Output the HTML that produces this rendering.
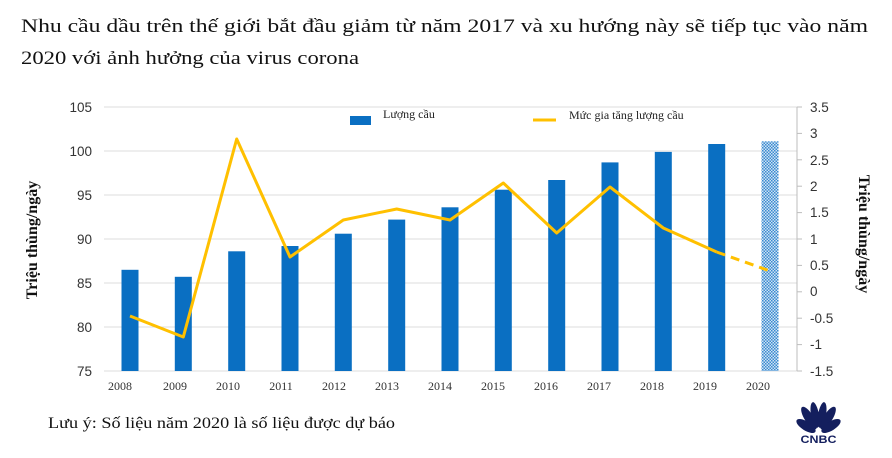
<!DOCTYPE html>
<html><head><meta charset="utf-8"><style>
html,body{margin:0;padding:0;background:#fff;}
svg{display:block;}
</style></head><body>
<svg width="892" height="458" viewBox="0 0 892 458" xmlns="http://www.w3.org/2000/svg">
<defs>
<pattern id="dots" width="3" height="3" patternUnits="userSpaceOnUse">
<rect width="3" height="3" fill="#cfe3f3"/>
<rect width="1.5" height="1.5" fill="#3a8ad0"/>
<rect x="1.5" y="1.5" width="1.5" height="1.5" fill="#3a8ad0"/>
</pattern>
</defs>
<g font-family="'Liberation Serif', serif" fill="#111">
<text x="21" y="32" font-size="19" textLength="847" lengthAdjust="spacingAndGlyphs">Nhu cầu dầu trên thế giới bắt đầu giảm từ năm 2017 và xu hướng này sẽ tiếp tục vào năm</text>
<text x="21" y="64" font-size="19" textLength="338" lengthAdjust="spacingAndGlyphs">2020 với ảnh hưởng của virus corona</text>
<text x="48" y="428" font-size="16" textLength="347" lengthAdjust="spacingAndGlyphs">Lưu ý: Số liệu năm 2020 là số liệu được dự báo</text>
</g>
<g stroke="#dcdcdc" stroke-width="1">
<line x1="104" y1="107" x2="797" y2="107"/>
<line x1="104" y1="151" x2="797" y2="151"/>
<line x1="104" y1="195" x2="797" y2="195"/>
<line x1="104" y1="239" x2="797" y2="239"/>
<line x1="104" y1="283" x2="797" y2="283"/>
<line x1="104" y1="327" x2="797" y2="327"/>
<line x1="104" y1="371" x2="797" y2="371"/>
</g>
<g stroke="#bdbdbd" stroke-width="1">
<line x1="797" y1="107" x2="797" y2="371"/>
<line x1="797" y1="107" x2="802" y2="107"/><line x1="797" y1="133.4" x2="802" y2="133.4"/>
<line x1="797" y1="159.8" x2="802" y2="159.8"/><line x1="797" y1="186.2" x2="802" y2="186.2"/>
<line x1="797" y1="212.6" x2="802" y2="212.6"/><line x1="797" y1="239" x2="802" y2="239"/>
<line x1="797" y1="265.4" x2="802" y2="265.4"/><line x1="797" y1="291.8" x2="802" y2="291.8"/>
<line x1="797" y1="318.2" x2="802" y2="318.2"/><line x1="797" y1="344.6" x2="802" y2="344.6"/>
<line x1="797" y1="371" x2="802" y2="371"/>
</g>
<g font-family="'Liberation Sans', sans-serif" font-size="13.5" fill="#333">
<g text-anchor="end">
<text x="92" y="112">105</text><text x="92" y="156">100</text><text x="92" y="200">95</text>
<text x="92" y="244">90</text><text x="92" y="288">85</text><text x="92" y="332">80</text><text x="92" y="376">75</text>
</g>
<text x="810" y="112">3.5</text><text x="810" y="138">3</text><text x="810" y="165">2.5</text>
<text x="810" y="191">2</text><text x="810" y="217">1.5</text><text x="810" y="244">1</text>
<text x="810" y="270">0.5</text><text x="810" y="296">0</text><text x="810" y="323">-0.5</text>
<text x="810" y="349">-1</text><text x="810" y="376">-1.5</text>
</g>
<g font-family="'Liberation Serif', serif" font-size="12" fill="#333" text-anchor="middle">
<text x="120" y="390">2008</text><text x="175" y="390">2009</text><text x="228" y="390">2010</text>
<text x="281" y="390">2011</text><text x="334" y="390">2012</text><text x="387" y="390">2013</text>
<text x="440" y="390">2014</text><text x="493" y="390">2015</text><text x="546" y="390">2016</text>
<text x="599" y="390">2017</text><text x="652" y="390">2018</text><text x="705" y="390">2019</text>
<text x="758" y="390">2020</text>
</g>
<g font-family="'Liberation Serif', serif" font-size="16" font-weight="bold" fill="#111" text-anchor="middle">
<text transform="translate(37,240) rotate(-90)">Triệu thùng/ngày</text>
<text transform="translate(859,234) rotate(90)">Triệu thùng/ngày</text>
</g>
<g fill="#0a6fc2">
<rect x="121.5" y="269.8" width="17" height="101.2"/>
<rect x="174.8" y="276.8" width="17" height="94.2"/>
<rect x="228.2" y="251.3" width="17" height="119.7"/>
<rect x="281.5" y="246" width="17" height="125"/>
<rect x="334.8" y="233.7" width="17" height="137.3"/>
<rect x="388.2" y="219.6" width="17" height="151.4"/>
<rect x="441.5" y="207.3" width="17" height="163.7"/>
<rect x="494.8" y="189.7" width="17" height="181.3"/>
<rect x="548.2" y="180" width="17" height="191"/>
<rect x="601.5" y="162.4" width="17" height="208.6"/>
<rect x="654.8" y="151.9" width="17" height="219.1"/>
<rect x="708.2" y="144" width="17" height="227"/>
</g>
<rect x="761.5" y="141.3" width="17" height="229.7" fill="url(#dots)"/>
<polyline fill="none" stroke="#ffc000" stroke-width="3" stroke-linejoin="round"
points="130,316 183.3,337 236.7,139 290,257 343.3,220 396.7,209 450,220 503.3,183 556.7,233 610,187 663.3,228 716.7,252"/>
<line x1="716.7" y1="252" x2="770" y2="271" stroke="#ffc000" stroke-width="3" stroke-dasharray="9,6"/>
<rect x="350" y="116" width="21" height="9" fill="#0a6fc2"/>
<line x1="533" y1="120" x2="556" y2="120" stroke="#ffc000" stroke-width="3"/>
<g font-family="'Liberation Serif', serif" font-size="12" fill="#222">
<text x="383" y="118">Lượng cầu</text>
<text x="569" y="119">Mức gia tăng lượng cầu</text>
</g>
<g fill="#141f5e">
<ellipse cx="806" cy="426" rx="4.5" ry="11" transform="rotate(-58 806 426)"/>
<ellipse cx="809" cy="418" rx="4.5" ry="13" transform="rotate(-32 809 418)"/>
<ellipse cx="815" cy="415" rx="4" ry="13" transform="rotate(-10 815 415)"/>
<ellipse cx="822" cy="415" rx="4" ry="13" transform="rotate(10 822 415)"/>
<ellipse cx="828" cy="418" rx="4.5" ry="13" transform="rotate(32 828 418)"/>
<ellipse cx="831" cy="426" rx="4.5" ry="11" transform="rotate(58 831 426)"/>
<text x="818.5" y="443" font-family="'Liberation Sans', sans-serif" font-size="11" font-weight="bold" text-anchor="middle" textLength="36" lengthAdjust="spacingAndGlyphs">CNBC</text>
</g>
</svg>
</body></html>
